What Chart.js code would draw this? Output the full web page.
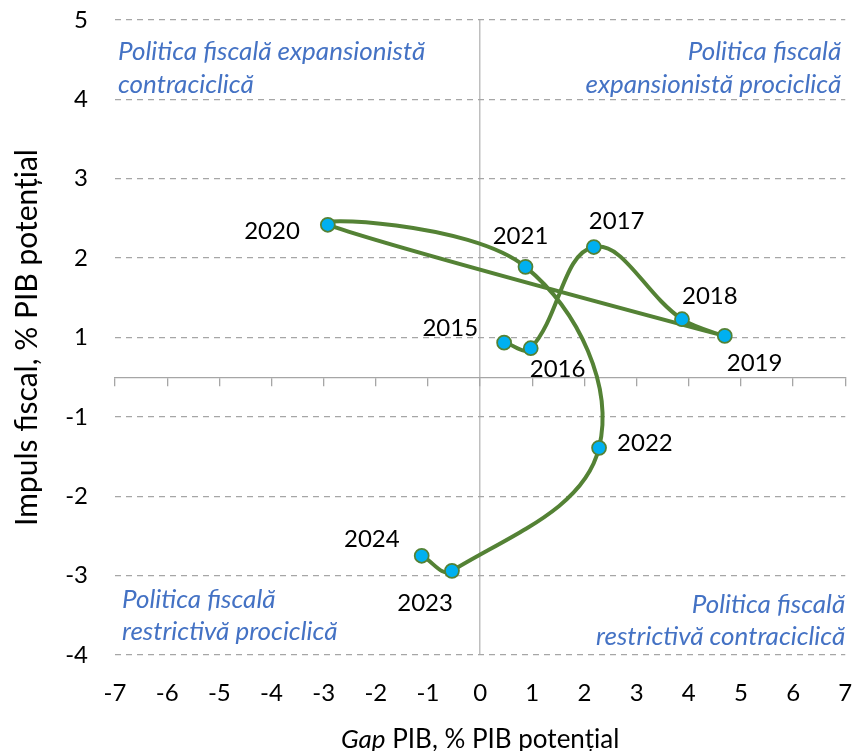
<!DOCTYPE html>
<html>
<head>
<meta charset="utf-8">
<script src="https://cdn.jsdelivr.net/npm/chart.js@4.4.1/dist/chart.umd.min.js"></script>
<style>
  html, body { margin: 0; padding: 0; background: #ffffff; }
  #wrap { width: 854px; height: 751px; position: relative; }
  canvas { display: block; }
</style>
</head>
<body>
<div id="wrap"><canvas id="c" width="854" height="751"></canvas></div>
<script>
// ---------------- data ----------------
const YEARS = ['2015', '2016', '2017', '2018', '2019', '2020', '2021', '2022', '2023', '2024'];
const GAP_PIB = [0.46, 0.97, 2.18, 3.87, 4.69, -2.92, 0.87, 2.28, -0.54, -1.12];
const IMPULS_FISCAL = [0.87, 0.73, 2.14, 1.23, 1.02, 2.42, 1.89, -1.39, -2.94, -2.75];

const X_MIN = -7;
const X_MAX = 7;
const Y_TICK_LABELS = [5, 4, 3, 2, 1, -1, -2, -3, -4];
const AXIS_CROSS = 0;

const X_TITLE_ITALIC = 'Gap';
const X_TITLE_REST = ' PIB, % PIB potențial';
const Y_TITLE = 'Impuls fiscal, % PIB potențial';

const QUADRANT_TEXT = [
  ['Politica fiscală expansionistă', 'contraciclică'],
  ['Politica fiscală', 'expansionistă prociclică'],
  ['Politica fiscală', 'restrictivă prociclică'],
  ['Politica fiscală', 'restrictivă contraciclică']
];

// ---------------- styles ----------------
const FONT = 'Lato, "Open Sans", "DejaVu Sans", sans-serif';
const GREEN = '#548235';
const MARKER = '#00b0f0';
const NOTE_BLUE = '#4472c4';

// label placement relative to its point: align, dx, dy (text middle)
const LABEL_STYLE = [
  { align: 'right', dx: -26, dy: -14 },
  { align: 'left', dx: -1, dy: 21 },
  { align: 'left', dx: -5, dy: -26 },
  { align: 'left', dx: 0, dy: -23 },
  { align: 'left', dx: 2, dy: 27 },
  { align: 'right', dx: -28, dy: 6 },
  { align: 'center', dx: -5, dy: -31 },
  { align: 'left', dx: 18, dy: -5 },
  { align: 'right', dx: 1, dy: 32 },
  { align: 'right', dx: -22, dy: -17 }
];

// quadrant notes placement relative to chart area
const QUADRANT_STYLE = [
  { corner: 'tl', align: 'left', dx: 3, dy: [32, 65] },
  { corner: 'tr', align: 'right', dx: -4, dy: [32, 65] },
  { corner: 'bl', align: 'left', dx: 7, dy: [-55, -23] },
  { corner: 'br', align: 'right', dx: 0, dy: [-50, -18] }
];

// ---------------- custom scale: evenly spaced labelled ticks ----------------
class TickIndexScale extends Chart.LinearScale {
  static id = 'tickIndex';
  static defaults = Chart.LinearScale.defaults;
  _stops() { return [...Y_TICK_LABELS].sort((a, b) => a - b); }
  _toIndex(v) {
    const s = this._stops();
    let i = 0;
    while (i < s.length - 2 && v > s[i + 1]) i++;
    return i + (v - s[i]) / (s[i + 1] - s[i]);
  }
  _fromIndex(u) {
    const s = this._stops();
    const i = Math.min(Math.max(Math.floor(u), 0), s.length - 2);
    return s[i] + (u - i) * (s[i + 1] - s[i]);
  }
  determineDataLimits() {
    this.min = 0;
    this.max = this._stops().length - 1;
  }
  buildTicks() {
    return [...this._stops(), AXIS_CROSS].sort((a, b) => a - b).map(v => ({ value: v }));
  }
  getPixelForValue(value) {
    if (value === null || value === undefined || isNaN(value)) return NaN;
    return this.getPixelForDecimal((this._toIndex(value) - this._startValue) / this._valueRange);
  }
  getValueForPixel(pixel) {
    return this._fromIndex(this._startValue + this.getDecimalForPixel(pixel) * this._valueRange);
  }
}
Chart.register(TickIndexScale);

// ---------------- text plugin ----------------
const textPlugin = {
  id: 'texts',
  afterDraw(chart) {
    const ctx = chart.ctx;
    const a = chart.chartArea;
    ctx.save();
    // year labels
    const meta = chart.getDatasetMeta(0);
    ctx.font = '24px ' + FONT;
    ctx.fillStyle = '#000000';
    ctx.textBaseline = 'middle';
    meta.data.forEach((pt, i) => {
      const s = LABEL_STYLE[i];
      ctx.textAlign = s.align;
      ctx.fillText(YEARS[i], pt.x + s.dx, pt.y + s.dy);
    });
    // quadrant notes
    ctx.font = 'italic 26px ' + FONT;
    ctx.fillStyle = NOTE_BLUE;
    QUADRANT_STYLE.forEach((q, qi) => {
      const bx = q.corner[1] === 'l' ? a.left : a.right;
      const by = q.corner[0] === 't' ? a.top : a.bottom;
      ctx.textAlign = q.align;
      QUADRANT_TEXT[qi].forEach((line, li) => {
        ctx.fillText(line, bx + q.dx, by + q.dy[li]);
      });
    });
    // x title with italic "Gap"
    const fItal = 'italic 26px ' + FONT;
    const fNorm = '26px ' + FONT;
    ctx.font = fItal; const w1 = ctx.measureText(X_TITLE_ITALIC).width;
    ctx.font = fNorm; const w2 = ctx.measureText(X_TITLE_REST).width;
    const cx = (a.left + a.right) / 2;
    const x0 = cx - (w1 + w2) / 2;
    const ty = 740;
    ctx.fillStyle = '#000000';
    ctx.textAlign = 'left';
    ctx.font = fItal; ctx.fillText(X_TITLE_ITALIC, x0, ty);
    ctx.font = fNorm; ctx.fillText(X_TITLE_REST, x0 + w1, ty);
    ctx.restore();
  }
};

function noPad(s) { s.paddingLeft = 0; s.paddingRight = 0; s.paddingTop = 0; s.paddingBottom = 0; }

function build() {
  const points = GAP_PIB.map((x, i) => ({ x: x, y: IMPULS_FISCAL[i] }));
  new Chart(document.getElementById('c'), {
    type: 'scatter',
    data: {
      datasets: [{
        label: 'Impuls fiscal',
        data: points,
        showLine: true,
        tension: 0.4,
        borderColor: GREEN,
        borderWidth: 4,
        pointRadius: 7,
        pointHoverRadius: 7,
        pointBorderWidth: 1.75,
        pointBackgroundColor: MARKER,
        pointBorderColor: GREEN,
        clip: false
      }]
    },
    options: {
      responsive: false,
      animation: false,
      devicePixelRatio: 1,
      events: [],
      layout: { padding: { left: 0, right: 7, top: 20, bottom: 0 } },
      plugins: { legend: { display: false }, tooltip: { enabled: false } },
      scales: {
        x: {
          type: 'linear',
          position: 'bottom',
          min: X_MIN,
          max: X_MAX,
          ticks: {
            stepSize: 1,
            color: '#000000',
            font: { family: FONT, size: 24 },
            padding: 24,
            callback: v => String(v)
          },
          grid: {
            drawTicks: false,
            lineWidth: 1.5,
            color: c => (c.tick && c.tick.value === 0) ? '#bfbfbf' : 'rgba(0,0,0,0)'
          },
          border: { display: false },
          afterFit: s => { s.height = 96; noPad(s); }
        },
        x2: {
          type: 'linear',
          axis: 'x',
          position: { y: AXIS_CROSS },
          min: X_MIN,
          max: X_MAX,
          ticks: { display: false, stepSize: 1 },
          grid: { drawOnChartArea: false, drawTicks: true, tickLength: 8, color: '#a6a6a6', lineWidth: 1.3 },
          border: { display: true, color: '#a6a6a6', width: 1.3 },
          afterFit: s => { noPad(s); }
        },
        y: {
          type: 'tickIndex',
          axis: 'y',
          position: 'left',
          ticks: {
            color: '#000000',
            font: { family: FONT, size: 24 },
            padding: 27,
            autoSkip: false,
            callback: v => (v === AXIS_CROSS ? '' : String(v))
          },
          grid: {
            drawTicks: false,
            lineWidth: 1.3,
            color: c => (c.tick && c.tick.value === AXIS_CROSS) ? 'rgba(0,0,0,0)' : '#a6a6a6'
          },
          border: { display: false, dash: [6, 5] },
          title: {
            display: true,
            text: Y_TITLE,
            color: '#000000',
            font: { family: FONT, size: 30 },
            padding: { top: 9, bottom: 0 }
          },
          afterFit: s => { s.width = 115; noPad(s); }
        }
      }
    },
    plugins: [textPlugin]
  });
}

if (document.fonts && document.fonts.load) {
  Promise.all([
    document.fonts.load('24px Lato'),
    document.fonts.load('italic 21px Lato')
  ]).then(build, build);
} else {
  build();
}
</script>
</body>
</html>
